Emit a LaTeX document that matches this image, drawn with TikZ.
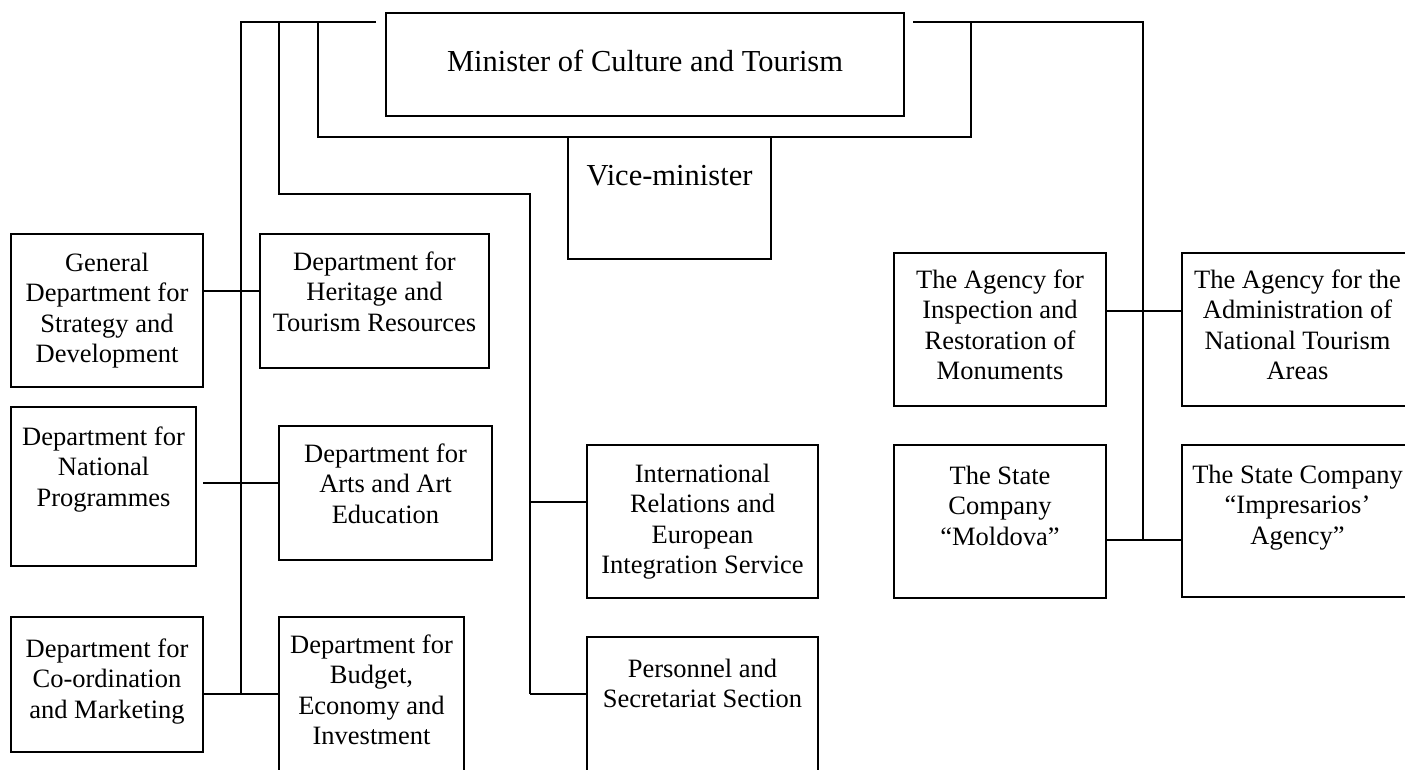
\documentclass[tikz,border=0pt]{standalone}
\usepackage{fontspec}
\setmainfont{Liberation Serif}
\usetikzlibrary{calc}
\newcommand\myrule[1]{\rule{0pt}{#1}}
\begin{document}
\begin{tikzpicture}[x=1pt,y=-1pt,
  box/.style={draw, line width=2.8pt, inner sep=0pt, outer sep=0pt, anchor=north west},
  txt/.style={align=center, inner sep=0pt, anchor=north, font=\fontsize{26.5}{30.5}\selectfont},
  bigtxt/.style={align=center, inner sep=0pt, anchor=north, font=\fontsize{30.5}{35}\selectfont},
  conn/.style={line width=1.7pt}]
\useasboundingbox (0,0) rectangle (1405,770);
% boxes
\node[box, minimum width=518pt, minimum height=103pt] (min) at (386,13) {};
\node[box, minimum width=203pt, minimum height=122pt] (vice) at (568,137) {};
\node[box, minimum width=192pt, minimum height=153pt] (gen) at (11,234) {};
\node[box, minimum width=229pt, minimum height=134pt] (her) at (260,234) {};
\node[box, minimum width=185pt, minimum height=159pt] (nat) at (11,407) {};
\node[box, minimum width=213pt, minimum height=134pt] (arts) at (279,426) {};
\node[box, minimum width=192pt, minimum height=135pt] (coord) at (11,617) {};
\node[box, minimum width=185pt, minimum height=175pt] (budg) at (279,617) {};
\node[box, minimum width=231pt, minimum height=153pt] (ir) at (587,445) {};
\node[box, minimum width=231pt, minimum height=155pt] (pers) at (587,637) {};
\node[box, minimum width=212pt, minimum height=153pt] (insp) at (894,253) {};
\node[box, minimum width=231pt, minimum height=153pt] (admin) at (1182,253) {};
\node[box, minimum width=212pt, minimum height=153pt] (mold) at (894,445) {};
\node[box, minimum width=231pt, minimum height=152pt] (imp) at (1182,445) {};
% texts
\node[bigtxt] (tmin) at ([yshift=-33pt]min.north) {\myrule{25pt}Minister of Culture and Tourism};
\node[bigtxt] (tvice) at ([yshift=-23pt]vice.north) {\myrule{25pt}Vice-minister};
\node[txt] (tgen) at ([yshift=-17pt]gen.north) {\myrule{20pt}General\\Department for\\Strategy and\\Development};
\node[txt] (ther) at ([yshift=-16pt]her.north) {\myrule{20pt}Department for\\Heritage and\\Tourism Resources};
\node[txt] (tnat) at ([yshift=-18pt]nat.north) {\myrule{20pt}Department for\\National\\Programmes};
\node[txt] (tarts) at ([yshift=-16pt]arts.north) {\myrule{20pt}Department for\\Arts and Art\\Education};
\node[txt] (tcoord) at ([yshift=-20pt]coord.north) {\myrule{20pt}Department for\\Co-ordination\\and Marketing};
\node[txt] (tbudg) at ([yshift=-16pt]budg.north) {\myrule{20pt}Department for\\Budget,\\Economy and\\Investment};
\node[txt] (tir) at ([yshift=-17pt]ir.north) {\myrule{20pt}International\\Relations and\\European\\Integration Service};
\node[txt] (tpers) at ([yshift=-20pt]pers.north) {\myrule{20pt}Personnel and\\Secretariat Section};
\node[txt] (tinsp) at ([yshift=-15pt]insp.north) {\myrule{20pt}The Agency for\\Inspection and\\Restoration of\\Monuments};
\node[txt] (tadmin) at ([yshift=-15pt]admin.north) {\myrule{20pt}The Agency for the\\Administration of\\National Tourism\\Areas};
\node[txt] (tmold) at ([yshift=-19pt]mold.north) {\myrule{20pt}The State\\Company\\“Moldova”};
\node[txt] (timp) at ([yshift=-18pt]imp.north) {\myrule{20pt}The State Company\\“Impresarios’\\Agency”};
% junction coordinates
\coordinate (ta) at (241,22);
\coordinate (te) at (376,22);
\coordinate (ba) at (241,694);
\coordinate (tb) at (279,22);
\coordinate (tc) at (318,22);
\coordinate (ka) at (530,194);
\coordinate (kb) at (530,694);
\coordinate (ra) at (971,22);
\coordinate (rb) at (913,22);
\coordinate (rc) at (1143,22);
\coordinate (rd) at (1143,540);
% connectors
\draw[conn] (te) -- (ta) -- (ba);
\draw[conn] (tb) |- (ka) -- (kb);
\draw[conn] (tc) -- (tc |- vice.north) -- (ra |- vice.north) -- (ra);
\draw[conn] (rb) -- (rc) -- (rd);
\draw[conn] ($(min.south)+(19,0)$) -- ($(min.south)+(19,0)$ |- vice.north);
\draw[conn] ($(gen.north east)+(0,57)$) -- ($(her.north west)+(0,57)$);
\draw[conn] ($(nat.north east)+(7,76)$) -- ($(arts.north west)+(0,57)$);
\draw[conn] ($(coord.north east)+(0,77)$) -- ($(budg.north west)+(0,77)$);
\draw[conn] (ka |- ir.north west) ++(0,57) coordinate (kir) -- ($(ir.north west)+(0,57)$);
\draw[conn] (kb) -- (kb -| pers.west);
\draw[conn] ($(insp.north east)+(0,58)$) -- ($(admin.north west)+(0,58)$);
\draw[conn] ($(mold.north east)+(0,95)$) -- ($(imp.north west)+(0,95)$);
\end{tikzpicture}
\end{document}
